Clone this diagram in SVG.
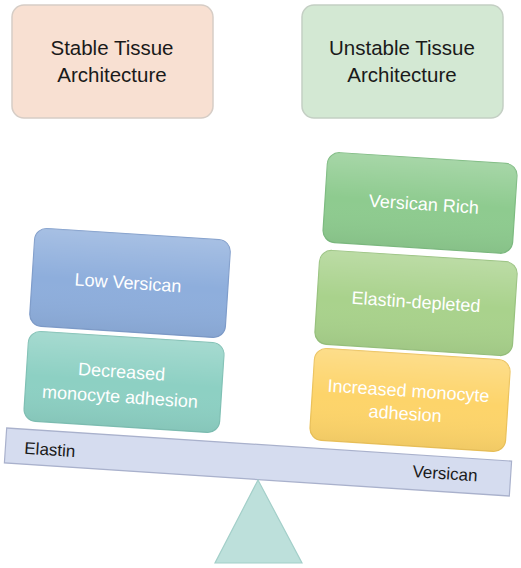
<svg xmlns="http://www.w3.org/2000/svg" width="521" height="568" viewBox="0 0 521 568">
<defs>
<linearGradient id="sheen" x1="0" y1="0" x2="0" y2="1">
<stop offset="0" stop-color="#ffffff" stop-opacity="0.22"/>
<stop offset="0.5" stop-color="#ffffff" stop-opacity="0"/>
<stop offset="1" stop-color="#000000" stop-opacity="0.05"/>
</linearGradient>
</defs>
<style>
.t{font-family:"Liberation Sans",Arial,sans-serif;text-anchor:middle}
.dark{fill:#1a1a1a;font-size:20.5px}
.white{fill:#ffffff;font-size:18px}
.bar{fill:#1a1a1a;font-size:17px;font-family:"Liberation Sans",Arial,sans-serif}
.box{stroke-width:1.2}
</style>
<rect width="521" height="568" fill="#ffffff"/>
<g id="stable">
<rect x="12" y="5" width="201" height="113" rx="12" fill="#f8e0d2" stroke="#d6cdc6" stroke-width="1.5"/>
<text class="t dark" x="112" y="55">Stable Tissue</text>
<text class="t dark" x="112" y="82">Architecture</text>
</g>
<g id="unstable">
<rect x="302" y="5" width="201" height="113" rx="12" fill="#d3e8d3" stroke="#c4cfc4" stroke-width="1.5"/>
<text class="t dark" x="402" y="55">Unstable Tissue</text>
<text class="t dark" x="402" y="82">Architecture</text>
</g>
<g id="low-versican" transform="translate(130,283) rotate(3.7)">
<rect class="box" x="-98" y="-49" width="196" height="98" rx="12" fill="#8eaedc" stroke="#7f9dcb"/>
<rect x="-98" y="-49" width="196" height="98" rx="12" fill="url(#sheen)"/>
<text class="t white" x="-2" y="6">Low Versican</text>
</g>
<g id="decreased" transform="translate(124,382) rotate(3.7)">
<rect class="box" x="-98" y="-45" width="196" height="90" rx="12" fill="#8dd0c3" stroke="#7fc0b4"/>
<rect x="-98" y="-45" width="196" height="90" rx="12" fill="url(#sheen)"/>
<text class="t white" x="-3" y="-4">Decreased</text>
<text class="t white" x="-3" y="21">monocyte adhesion</text>
</g>
<g id="versican-rich" transform="translate(420,203) rotate(3.7)">
<rect class="box" x="-95" y="-45" width="190" height="90" rx="12" fill="#8ecb8f" stroke="#7dbb80"/>
<rect x="-95" y="-45" width="190" height="90" rx="12" fill="url(#sheen)"/>
<text class="t white" x="4" y="7">Versican Rich</text>
</g>
<g id="elastin-depleted" transform="translate(416,303) rotate(3.7)">
<rect class="box" x="-99" y="-47" width="198" height="94" rx="12" fill="#a9d28c" stroke="#98c27e"/>
<rect x="-99" y="-47" width="198" height="94" rx="12" fill="url(#sheen)"/>
<text class="t white" x="0" y="5">Elastin-depleted</text>
</g>
<g id="increased" transform="translate(410,400) rotate(3.7)">
<rect class="box" x="-98" y="-46" width="196" height="92" rx="12" fill="#fdd46a" stroke="#ecc25a"/>
<rect x="-98" y="-46" width="196" height="92" rx="12" fill="url(#sheen)"/>
<text class="t white" x="-2" y="-3">Increased monocyte</text>
<text class="t white" x="-4" y="20">adhesion</text>
</g>
<g id="beam" transform="translate(258,462) rotate(3.75)">
<rect x="-253" y="-17.5" width="506" height="35" fill="#d5dcef" stroke="#a9b1cc" stroke-width="1.2"/>
<text class="bar" x="-234" y="7">Elastin</text>
<text class="bar" x="220" y="5" text-anchor="end">Versican</text>
</g>
<g id="fulcrum">
<polygon points="258,480 215,563 302,563" fill="#bde0db" stroke="#a3cfc9" stroke-width="1.2"/>
</g>
<g id="connectors"></g>
</svg>
